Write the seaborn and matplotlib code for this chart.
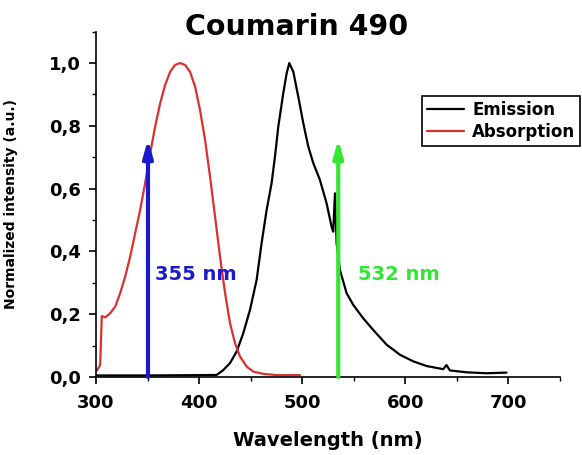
import numpy as np
import pandas as pd
import matplotlib
matplotlib.use("Agg")
import matplotlib.pyplot as plt
import seaborn as sns
from matplotlib.ticker import MultipleLocator, FuncFormatter

sns.set_theme(style="ticks")
plt.rcParams['font.family'] = ['DejaVu Sans']
plt.rcParams['font.weight'] = 'bold'
plt.rcParams['text.color'] = 'black'
plt.rcParams['axes.labelcolor'] = 'black'

# Absorption spectrum (wavelength nm, normalized intensity)
abs_wl = [301, 304, 305.6, 308.9, 313.7, 318.6, 323.4, 328.3, 333.1, 337.9, 342.8, 347.6,
          352.5, 357.3, 362.2, 367, 371.9, 376.7, 381.5, 386.4, 391.2, 396.1, 400.9, 405.8,
          410.6, 415.5, 420.3, 425.2, 430, 434.9, 439.7, 446.2, 452.6, 462.3, 475.3, 497.9]
abs_val = [0.021, 0.038, 0.194, 0.19, 0.203, 0.224, 0.267, 0.32, 0.383, 0.457, 0.532, 0.617,
           0.712, 0.797, 0.872, 0.93, 0.972, 0.994, 1.0, 0.994, 0.972, 0.925, 0.85, 0.755,
           0.638, 0.51, 0.383, 0.267, 0.171, 0.107, 0.065, 0.033, 0.017, 0.01, 0.006, 0.006]

# Emission spectrum
em_wl = [300, 350, 400, 417, 423.4, 429.9, 436.4, 442.8, 449.3, 455.8, 460.6, 465.5, 470.3,
         473.6, 476.8, 481.6, 484.9, 487.5, 491.4, 496.2, 501.1, 505.9, 510.8, 517.2, 523.7,
         528.5, 530.1, 531.8, 533.4, 536.6, 543.1, 549.5, 559.2, 568.9, 581.9, 594.8, 607.7,
         620.7, 636.8, 640, 643.3, 659.4, 678.8, 698.2]
em_val = [0.005, 0.005, 0.006, 0.0065, 0.022, 0.044, 0.081, 0.139, 0.213, 0.309, 0.426, 0.532,
          0.617, 0.702, 0.797, 0.903, 0.967, 1.0, 0.972, 0.893, 0.808, 0.734, 0.681, 0.628,
          0.553, 0.479, 0.463, 0.585, 0.426, 0.341, 0.267, 0.23, 0.187, 0.15, 0.103, 0.071,
          0.05, 0.035, 0.025, 0.038, 0.021, 0.015, 0.012, 0.014]

# Excitation laser lines
laser_wl = [350.4, 535]
laser_top = [0.757, 0.757]
laser_labels = ["355 nm", "532 nm"]
laser_label_x = [357, 554]
laser_label_y = [0.328, 0.328]
laser_colors = ["#1a1acc", "#33e633"]

df = pd.concat([
    pd.DataFrame({"wl": em_wl, "val": em_val, "series": "Emission"}),
    pd.DataFrame({"wl": abs_wl, "val": abs_val, "series": "Absorption"}),
])

fig = plt.figure(figsize=(5.82, 4.55), dpi=100)
ax = fig.add_axes([0.165, 0.1714, 0.797, 0.759])

sns.lineplot(data=df, x="wl", y="val", hue="series", sort=False,
             palette={"Emission": "black", "Absorption": "#dc2f2f"},
             linewidth=1.6, ax=ax, legend=True, estimator=None)

for x, top, lab, lx, ly, c in zip(laser_wl, laser_top, laser_labels, laser_label_x, laser_label_y, laser_colors):
    ax.annotate("", xy=(x, top), xytext=(x, 0),
                arrowprops=dict(arrowstyle="-|>,head_length=0.85,head_width=0.24", color=c, lw=3,
                                shrinkA=0, shrinkB=0))
    ax.text(lx, ly, lab, color=c, fontsize=14, fontweight='bold', va='center', ha='left')

ax.set_xlim(300, 750)
ax.set_ylim(0, 1.1)
ax.xaxis.set_major_locator(MultipleLocator(100))
ax.xaxis.set_minor_locator(MultipleLocator(50))
ax.yaxis.set_major_locator(MultipleLocator(0.2))
ax.yaxis.set_minor_locator(MultipleLocator(0.1))
ax.yaxis.set_major_formatter(FuncFormatter(lambda v, p: f"{v:.1f}".replace('.', ',')))
ax.tick_params(which='major', direction='out', length=5, width=1.2, labelsize=13, colors='black')
ax.tick_params(axis='x', which='major', pad=7)
ax.tick_params(axis='y', which='major', pad=6)
ax.tick_params(which='minor', direction='out', length=3, width=1.0, colors='black')
for lbl in ax.get_xticklabels() + ax.get_yticklabels():
    lbl.set_fontweight('bold')
for s in ['top', 'right']:
    ax.spines[s].set_visible(False)
for s in ['left', 'bottom']:
    ax.spines[s].set_color('black')
    ax.spines[s].set_linewidth(1.2)

ax.set_xlabel("Wavelength (nm)", fontsize=14, fontweight='bold', labelpad=14)
ax.set_ylabel("Normalized intensity (a.u.)", fontsize=10, fontweight='bold', labelpad=22)
fig.text(0.51, 0.94, "Coumarin 490", fontsize=20.5, fontweight='bold', ha='center', va='center')

handles, labels = ax.get_legend_handles_labels()
ax.get_legend().remove()
leg = fig.legend(handles, labels, loc='upper right', bbox_to_anchor=(0.997, 0.79),
                 fancybox=False, edgecolor='black', framealpha=1, fontsize=12,
                 handlelength=2.2, borderpad=0.3, labelspacing=0.25, handletextpad=0.5,
                 borderaxespad=0)
leg.get_frame().set_linewidth(1.2)
for t in leg.get_texts():
    t.set_fontweight('bold')

fig.savefig("out.png", dpi=100)
